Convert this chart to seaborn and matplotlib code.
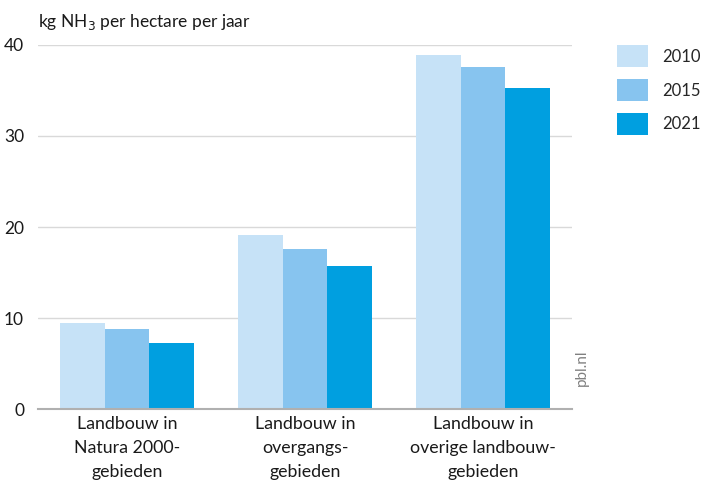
import matplotlib
matplotlib.use("Agg")
import matplotlib.pyplot as plt
import pandas as pd
import seaborn as sns
from matplotlib.patches import Patch

# Data
categories = ["Landbouw in\nNatura 2000-\ngebieden",
              "Landbouw in\novergangs-\ngebieden",
              "Landbouw in\noverige landbouw-\ngebieden"]
years = ["2010", "2015", "2021"]
values_2010 = [9.45, 19.1, 38.9]
values_2015 = [8.8, 17.6, 37.6]
values_2021 = [7.25, 15.7, 35.3]

colors = ["#c6e2f7", "#87c4ef", "#009fe0"]

df = pd.DataFrame({
    "gebied": categories * 3,
    "jaar": [y for y in years for _ in categories],
    "waarde": values_2010 + values_2015 + values_2021,
})

sns.set_style("white")
plt.rcParams["font.family"] = ["Lato", "DejaVu Sans"]

fig = plt.figure(figsize=(7.02, 4.83), dpi=100)
ax = fig.add_axes([0.054, 0.153, 0.761, 0.754])

sns.barplot(data=df, x="gebied", y="waarde", hue="jaar", palette=colors,
            width=0.75, gap=0, saturation=1, linewidth=0, legend=False, ax=ax)

ax.set_xlim(-0.5, 2.5)
ax.set_ylim(0, 40)
ax.set_yticks([0, 10, 20, 30, 40])
ax.yaxis.grid(True, color="#d9d9d9", linewidth=1)
ax.set_axisbelow(True)
for s in ["top", "right", "left"]:
    ax.spines[s].set_visible(False)
ax.spines["bottom"].set_color("#b0b0b0")
ax.spines["bottom"].set_linewidth(1.5)
ax.tick_params(axis="both", length=0, labelsize=12.5, colors="#1a1a1a")
ax.tick_params(axis="y", pad=10)
ax.tick_params(axis="x", pad=5)
ax.set_xlabel("")
ax.set_ylabel("")
for lbl in ax.get_xticklabels():
    lbl.set_linespacing(1.62)
    lbl.set_fontsize(12.8)

fig.text(0.054, 0.955, "kg NH$_3$ per hectare per jaar", fontsize=12.5,
         color="#1a1a1a", ha="left", va="center")

handles = [Patch(facecolor=c, edgecolor="none", label=y) for c, y in zip(colors, years)]
fig.legend(handles=handles, loc="upper left", bbox_to_anchor=(0.862, 0.93),
           frameon=False, fontsize=12, handlelength=1.85, handleheight=1.6,
           handletextpad=0.9, labelspacing=0.75, borderpad=0.2)

fig.text(0.829, 0.2, "pbl.nl", rotation=90, fontsize=11, color="#808080",
         ha="center", va="bottom")

plt.savefig("out.png", dpi=100)
